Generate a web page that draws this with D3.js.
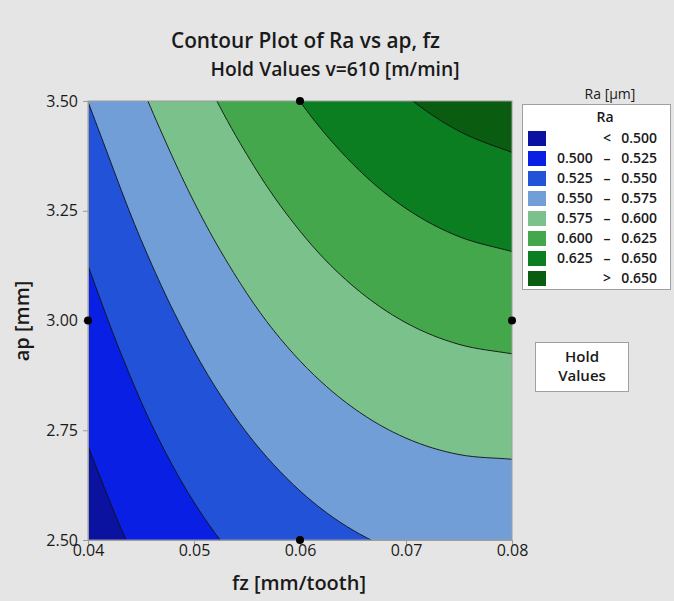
<!DOCTYPE html>
<html>
<head>
<meta charset="utf-8">
<script src="https://cdnjs.cloudflare.com/ajax/libs/d3/7.8.5/d3.min.js"></script>
<style>
body { margin: 0; background: #e5e5e5; }
text { font-family: "Open Sans", "Noto Sans", sans-serif; fill: #1a1a1a; }
</style>
</head>
<body>
<script>
// Ra, one row per ap value, one column per fz value
var fzValues = [0.04, 0.045, 0.05, 0.055, 0.06, 0.065, 0.07, 0.075, 0.08];
var apValues = [2.5, 2.625, 2.75, 2.875, 3.0, 3.125, 3.25, 3.375, 3.5];
var raRows = [
  [0.4879, 0.5045, 0.5188, 0.5308, 0.5406, 0.5480, 0.5531, 0.5559, 0.5565],
  [0.4948, 0.5125, 0.5278, 0.5406, 0.5511, 0.5592, 0.5649, 0.5681, 0.5690],
  [0.5021, 0.5207, 0.5368, 0.5505, 0.5617, 0.5704, 0.5767, 0.5805, 0.5818],
  [0.5095, 0.5289, 0.5459, 0.5603, 0.5722, 0.5816, 0.5886, 0.5929, 0.5948],
  [0.5172, 0.5374, 0.5550, 0.5702, 0.5828, 0.5929, 0.6005, 0.6055, 0.6081],
  [0.5250, 0.5459, 0.5642, 0.5800, 0.5934, 0.6042, 0.6125, 0.6182, 0.6215],
  [0.5332, 0.5546, 0.5735, 0.5900, 0.6039, 0.6155, 0.6245, 0.6311, 0.6352],
  [0.5415, 0.5633, 0.5828, 0.5998, 0.6145, 0.6267, 0.6366, 0.6441, 0.6491],
  [0.5501, 0.5723, 0.5921, 0.6098, 0.6251, 0.6381, 0.6488, 0.6572, 0.6633]
];
var levels = [0.5, 0.525, 0.55, 0.575, 0.6, 0.625, 0.65];
var bandColors = ["#0b12a0", "#0a1fe4", "#2152d8", "#729ed7", "#7bc18b", "#45a74c", "#0b7e22", "#095c10"];
var legendFrom = ["", "0.500", "0.525", "0.550", "0.575", "0.600", "0.625", ""];
var legendMid = ["<", "\u2013", "\u2013", "\u2013", "\u2013", "\u2013", "\u2013", ">"];
var legendTo = ["0.500", "0.525", "0.550", "0.575", "0.600", "0.625", "0.650", "0.650"];
var designFz = [0.06, 0.04, 0.08, 0.06];
var designAp = [3.5, 3.0, 3.0, 2.5];
var xTicks = [0.04, 0.05, 0.06, 0.07, 0.08];
var yTicks = [2.5, 2.75, 3.0, 3.25, 3.5];

var width = 674, height = 601;
var pLeft = 88, pRight = 512, pTop = 101, pBottom = 540;

var svg = d3.select("body").append("svg")
  .attr("width", width)
  .attr("height", height)

svg.append("rect").attr("width", width).attr("height", height).attr("fill", "#e5e5e5")

var x = d3.scaleLinear().domain([0.04, 0.08]).range([pLeft, pRight])
var y = d3.scaleLinear().domain([2.5, 3.5]).range([pBottom, pTop])

// smooth surface for drawing: Catmull-Rom spline through the grid values
var sub = 8;
function cr(a, s) {
  var n = a.length, i = Math.min(Math.floor(s), n - 2), t = s - i;
  function p(k){ return k < 0 ? 2 * a[0] - a[1] : (k > n - 1 ? 2 * a[n - 1] - a[n - 2] : a[k]) }
  var p0 = p(i - 1), p1 = p(i), p2 = p(i + 1), p3 = p(i + 2);
  return 0.5 * (2 * p1 + (p2 - p0) * t + (2 * p0 - 5 * p1 + 4 * p2 - p3) * t * t + (3 * p1 - p0 - 3 * p2 + p3) * t * t * t);
}
var nx = (fzValues.length - 1) * sub + 1, ny = (apValues.length - 1) * sub + 1;
var rowsFine = raRows.map(function(r){
  return d3.range(nx).map(function(ix){ return cr(r, ix / sub) })
})
var fine = [];
for (var iy = 0; iy < ny; iy++) {
  for (var ix = 0; ix < nx; ix++) {
    fine.push(cr(rowsFine.map(function(r){ return r[ix] }), iy / sub))
  }
}

var contours = d3.contours().size([nx, ny]).thresholds(levels)(fine)

// contour coords: sample k sits at k + 0.5
var gx = d3.scaleLinear().domain([0.5, nx - 0.5]).range([x(fzValues[0]), x(fzValues[fzValues.length - 1])])
var gy = d3.scaleLinear().domain([0.5, ny - 0.5]).range([y(apValues[0]), y(apValues[apValues.length - 1])])

var path = d3.geoPath(d3.geoTransform({
  point: function(px, py){ this.stream.point(gx(px), gy(py)) }
}))

svg.append("clipPath").attr("id", "plotclip")
  .append("rect").attr("x", pLeft).attr("y", pTop).attr("width", pRight - pLeft).attr("height", pBottom - pTop)

var plot = svg.append("g").attr("clip-path", "url(#plotclip)")

plot.append("rect")
  .attr("x", pLeft).attr("y", pTop).attr("width", pRight - pLeft).attr("height", pBottom - pTop)
  .attr("fill", bandColors[0])

plot.selectAll("path.band").data(contours).enter().append("path")
  .attr("class", "band")
  .attr("d", path)
  .attr("fill", function(d, i){ return bandColors[i + 1] })

plot.selectAll("path.line").data(contours).enter().append("path")
  .attr("class", "line")
  .attr("d", path)
  .attr("fill", "none")
  .attr("stroke", "#111")
  .attr("stroke-width", 0.9)

// frame
svg.append("rect")
  .attr("x", pLeft).attr("y", pTop).attr("width", pRight - pLeft).attr("height", pBottom - pTop)
  .attr("fill", "none").attr("stroke", "#9c9c9c").attr("stroke-width", 1)

// axes
var xAxis = svg.append("g").attr("transform", "translate(0," + pBottom + ")")
  .call(d3.axisBottom(x).tickValues(xTicks).tickFormat(d3.format(".2f")).tickSize(5).tickSizeOuter(0))
var yAxis = svg.append("g").attr("transform", "translate(" + pLeft + ",0)")
  .call(d3.axisLeft(y).tickValues(yTicks).tickFormat(d3.format(".2f")).tickSize(5).tickSizeOuter(0))
;[xAxis, yAxis].forEach(function(a){
  a.select(".domain").attr("stroke", "#9c9c9c")
  a.selectAll(".tick line").attr("stroke", "#9c9c9c")
  a.selectAll(".tick text").attr("font-family", "Open Sans").attr("font-size", 16).attr("fill", "#1a1a1a")
})
xAxis.selectAll(".tick text").attr("y", 5).attr("dy", "0.71em")
yAxis.selectAll(".tick text").attr("x", -10)

// design points
svg.selectAll("circle.pt").data(designFz).enter().append("circle")
  .attr("class", "pt")
  .attr("cx", function(d){ return x(d) })
  .attr("cy", function(d, i){ return y(designAp[i]) })
  .attr("r", 4)
  .attr("fill", "#000")

// titles
svg.append("text").attr("x", 305.5).attr("y", 48).attr("text-anchor", "middle")
  .attr("font-size", 20.8).attr("font-weight", 600).text("Contour Plot of Ra vs ap, fz")
svg.append("text").attr("x", 335).attr("y", 75.5).attr("text-anchor", "middle")
  .attr("font-size", 19.3).attr("font-weight", 600).text("Hold Values v=610 [m/min]")
svg.append("text").attr("x", 299).attr("y", 590).attr("text-anchor", "middle")
  .attr("font-size", 20).attr("font-weight", 600).text("fz [mm/tooth]")
svg.append("text").attr("transform", "translate(29,321) rotate(-90)").attr("text-anchor", "middle")
  .attr("font-size", 20).attr("font-weight", 600).text("ap [mm]")

// legend
svg.append("text").attr("x", 610).attr("y", 99).attr("text-anchor", "middle")
  .attr("font-size", 14).attr("fill", "#333").text("Ra [\u00b5m]")
svg.append("rect").attr("x", 522.5).attr("y", 104.5).attr("width", 148).attr("height", 185)
  .attr("fill", "#fff").attr("stroke", "#a0a0a0")
svg.append("text").attr("x", 605).attr("y", 122).attr("text-anchor", "middle")
  .attr("font-size", 14).attr("font-weight", 600).text("Ra")

var rows = svg.selectAll("g.lrow").data(bandColors).enter().append("g")
  .attr("class", "lrow")
  .attr("transform", function(d, i){ return "translate(0," + (131 + i * 20) + ")" })
rows.append("rect").attr("x", 528).attr("width", 18).attr("height", 15).attr("fill", function(d){ return d })
rows.append("text").attr("x", 557).attr("y", 12).attr("font-size", 14).attr("font-weight", 600)
  .text(function(d, i){ return legendFrom[i] })
rows.append("text").attr("x", 607).attr("y", 12).attr("text-anchor", "middle").attr("font-size", 14).attr("font-weight", 600)
  .text(function(d, i){ return legendMid[i] })
rows.append("text").attr("x", 657).attr("y", 12).attr("text-anchor", "end").attr("font-size", 14).attr("font-weight", 600)
  .text(function(d, i){ return legendTo[i] })

// hold values box
svg.append("rect").attr("x", 535.5).attr("y", 342.5).attr("width", 93).attr("height", 49)
  .attr("fill", "#fff").attr("stroke", "#a0a0a0")
svg.append("text").attr("x", 582).attr("y", 362).attr("text-anchor", "middle")
  .attr("font-size", 15).attr("font-weight", 600).text("Hold")
svg.append("text").attr("x", 582).attr("y", 381).attr("text-anchor", "middle")
  .attr("font-size", 15).attr("font-weight", 600).text("Values")
</script>
</body>
</html>
